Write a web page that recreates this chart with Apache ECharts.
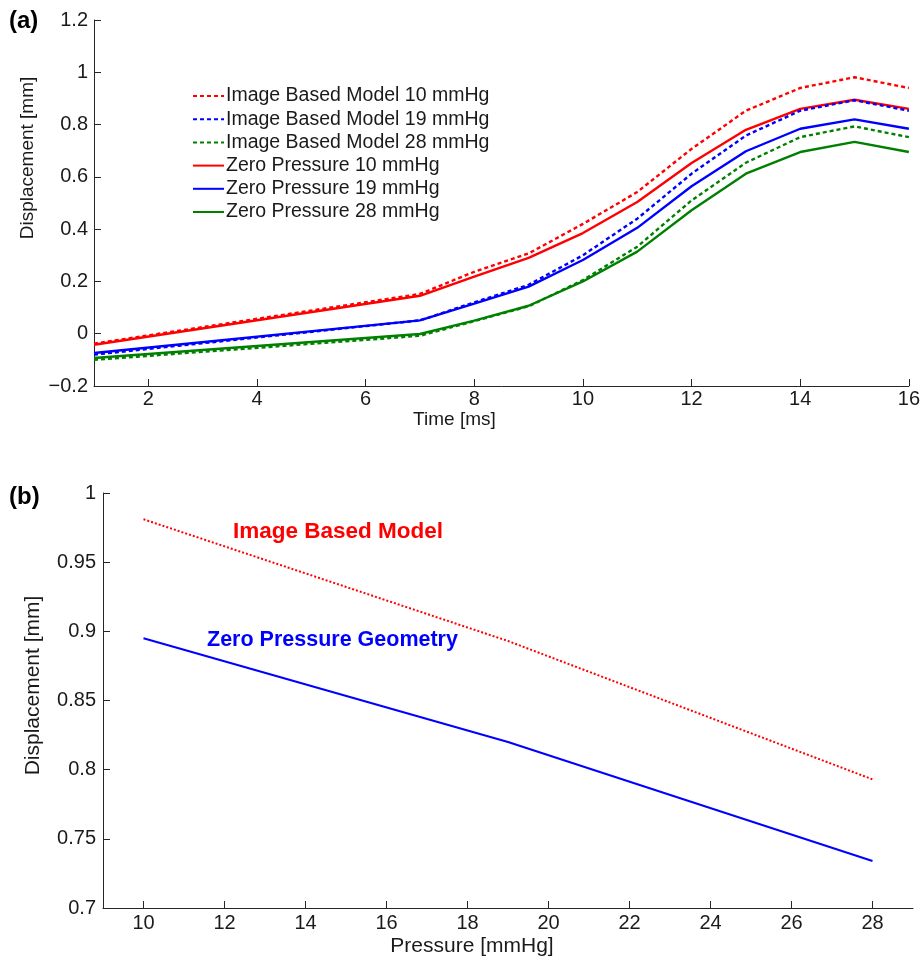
<!DOCTYPE html>
<html>
<head>
<meta charset="utf-8">
<script src="https://cdn.jsdelivr.net/npm/echarts@6/dist/echarts.min.js"></script>
<style>
html,body{margin:0;padding:0;background:#fff;}
#c{width:923px;height:969px;}
</style>
</head>
<body>
<div id="c"></div>
<script>
// ---- Panel (a): displacement vs time ----
const time = [1, 7, 8, 9, 10, 11, 12, 13, 14, 15, 16];
const ibm10 = [-0.038, 0.152, 0.237, 0.307, 0.420, 0.542, 0.707, 0.853, 0.940, 0.981, 0.940];
const ibm19 = [-0.080, 0.051, 0.120, 0.187, 0.300, 0.440, 0.612, 0.758, 0.853, 0.893, 0.853];
const ibm28 = [-0.100, -0.008, 0.048, 0.105, 0.205, 0.333, 0.510, 0.654, 0.752, 0.793, 0.752];
const zp10  = [-0.042, 0.145, 0.218, 0.290, 0.385, 0.504, 0.653, 0.780, 0.860, 0.895, 0.860];
const zp19  = [-0.074, 0.051, 0.115, 0.180, 0.282, 0.405, 0.564, 0.698, 0.784, 0.820, 0.784];
const zp28  = [-0.093, -0.001, 0.050, 0.107, 0.200, 0.314, 0.472, 0.612, 0.695, 0.734, 0.695];
const timeTicks = [2, 4, 6, 8, 10, 12, 14, 16];

// ---- Panel (b): peak displacement vs pressure ----
const pressure = [10, 19, 28];
const ibmPeak = [0.981, 0.893, 0.793];
const zpPeak  = [0.895, 0.820, 0.734];
const pressureTicks = [10, 12, 14, 16, 18, 20, 22, 24, 26, 28];

const FONT = '"Liberation Sans", Arial, sans-serif';
const RED = '#ff0000', BLUE = '#0000ff', GREEN = '#008000';
const AXC = '#262626';

function pairs(xs, ys) { return xs.map((x, i) => [x, ys[i]]); }
function fmt(v) { return String(parseFloat(Number(v).toFixed(3))).replace('-', '\u2212'); }

const axisBase = {
  axisLine: { show: true, onZero: false, lineStyle: { color: AXC, width: 1 } },
  axisTick: { show: true, inside: true, length: 7, lineStyle: { color: AXC } },
  splitLine: { show: false },
  axisLabel: { color: '#1a1a1a', fontFamily: FONT, fontSize: 20, formatter: fmt },
  nameTextStyle: { color: '#1a1a1a', fontFamily: FONT, fontSize: 19 }
};
function ax(extra) { return echarts.util.merge(echarts.util.clone(axisBase), extra, true); }

function topLine(name, data, color, dashed) {
  return {
    name: name, type: 'line', xAxisIndex: 0, yAxisIndex: 0,
    data: pairs(time, data), symbol: 'none', showSymbol: false,
    lineStyle: { color: color, width: 2.4, type: dashed ? [4, 3] : 'solid' },
    itemStyle: { color: color }, silent: true, animation: false, z: dashed ? 3 : 2
  };
}

const option = {
  animation: false,
  backgroundColor: '#fff',
  grid: [
    { left: 94, right: 14, top: 20, bottom: 583, containLabel: false },
    { left: 103, right: 10, top: 493, bottom: 61, containLabel: false }
  ],
  xAxis: [
    ax({ type: 'value', gridIndex: 0, min: 1, max: 16,
      axisTick: { customValues: timeTicks },
      axisLabel: { customValues: timeTicks, margin: 3 },
      name: 'Time [ms]', nameLocation: 'middle', nameGap: 21,
      nameTextStyle: { padding: [0, 94, 0, 0] } }),
    ax({ type: 'value', gridIndex: 1, min: 9, max: 29,
      axisTick: { customValues: pressureTicks },
      axisLabel: { customValues: pressureTicks, margin: 5 },
      name: 'Pressure [mmHg]', nameLocation: 'middle', nameGap: 28,
      nameTextStyle: { fontSize: 21, padding: [0, 72, 0, 0] } })
  ],
  yAxis: [
    ax({ type: 'value', gridIndex: 0, min: -0.2, max: 1.2, interval: 0.2,
      axisLabel: { margin: 6 },
      name: 'Displacement [mm]', nameLocation: 'middle', nameGap: 46,
      nameTextStyle: { padding: [0, 0, 0, 90] } }),
    ax({ type: 'value', gridIndex: 1, min: 0.7, max: 1, interval: 0.05,
      axisLabel: { margin: 7 },
      name: 'Displacement [mm]', nameLocation: 'middle', nameGap: 59,
      nameTextStyle: { fontSize: 21, padding: [0, 0, 0, 30] } })
  ],
  legend: {
    orient: 'vertical', left: 187, top: 81,
    itemWidth: 31, itemHeight: 14, itemGap: 3.2,
    itemStyle: { color: 'rgba(0,0,0,0)', borderColor: 'rgba(0,0,0,0)', borderWidth: 0, opacity: 0 },
    textStyle: { fontFamily: FONT, fontSize: 19.5, color: '#1a1a1a', padding: [0, 0, 0, -3] },
    data: ['Image Based Model 10 mmHg', 'Image Based Model 19 mmHg', 'Image Based Model 28 mmHg',
           'Zero Pressure 10 mmHg', 'Zero Pressure 19 mmHg', 'Zero Pressure 28 mmHg'],
    selectedMode: false
  },
  series: [
    topLine('Image Based Model 10 mmHg', ibm10, RED, true),
    topLine('Image Based Model 19 mmHg', ibm19, BLUE, true),
    topLine('Image Based Model 28 mmHg', ibm28, GREEN, true),
    topLine('Zero Pressure 10 mmHg', zp10, RED, false),
    topLine('Zero Pressure 19 mmHg', zp19, BLUE, false),
    topLine('Zero Pressure 28 mmHg', zp28, GREEN, false),
    { name: 'Image Based Model', type: 'line', xAxisIndex: 1, yAxisIndex: 1,
      data: pairs(pressure, ibmPeak), symbol: 'none',
      lineStyle: { color: RED, width: 2, type: [2, 2] }, silent: true },
    { name: 'Zero Pressure Geometry', type: 'line', xAxisIndex: 1, yAxisIndex: 1,
      data: pairs(pressure, zpPeak), symbol: 'none',
      lineStyle: { color: BLUE, width: 2 }, silent: true }
  ],
  graphic: [
    { type: 'text', left: 9, top: 9, style: { text: '(a)', font: 'bold 24px ' + FONT, fill: '#000' } },
    { type: 'text', left: 9, top: 485, style: { text: '(b)', font: 'bold 24px ' + FONT, fill: '#000' } },
    { type: 'text', left: 233, top: 520, style: { text: 'Image Based Model', font: 'bold 22.5px ' + FONT, fill: RED } },
    { type: 'text', left: 207, top: 629, style: { text: 'Zero Pressure Geometry', font: 'bold 21.5px ' + FONT, fill: BLUE } }
  ]
};

const chart = echarts.init(document.getElementById('c'), null, { renderer: 'canvas' });
chart.setOption(option);
</script>
</body>
</html>
